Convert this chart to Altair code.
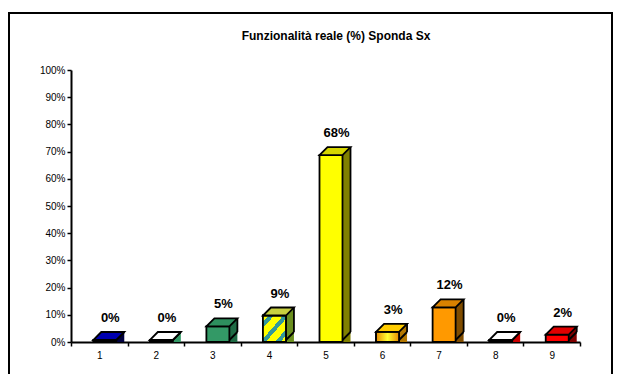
import altair as alt
import pandas as pd

# ---- data ----
cats = ["1", "2", "3", "4", "5", "6", "7", "8", "9"]
values = [0, 0, 5, 9, 68, 3, 12, 0, 2]  # percent
front_colors = ["#000080", "#33CCCC", "#339966", "#FFFF00", "#FFFF00", "#FFCC00", "#FF9900", "#FF3300", "#FF0000"]
side_colors = ["#000040", "#339966", "#1F6B45", "#6B8F1F", "#808000", "#B37700", "#804D00", "#CC0000", "#800000"]
top_colors = ["#0000B0", "#FFFFFF", "#2E8F5E", "#C8D040", "#D6D600", "#FFCC00", "#D98200", "#FFFFFF", "#E00000"]
y_ticks = [0.0, 0.1, 0.2, 0.3, 0.4, 0.5, 0.6, 0.7, 0.8, 0.9, 1.0]
title_text = "Funzionalità reale (%) Sponda Sx"

df = pd.DataFrame({
    "cat": cats,
    "val": [v / 100 for v in values],
    "label": [f"{v}%" for v in values],
    "front": front_colors,
    "side": side_colors,
    "top": top_colors,
})

FONT = "Liberation Sans"
SW = 1.8
FW = 23          # front face width
FX = 5.5         # front face center offset from band center
DX, DY = 8, 8    # depth
FY = -2          # front face vertical offset

x_enc = alt.X(
    "cat:N", sort=cats,
    scale=alt.Scale(domain=cats, paddingInner=0, paddingOuter=0),
    axis=alt.Axis(title=None, labelAngle=0, tickBand="extent", domainColor="black",
                  domainWidth=2, tickColor="black", tickWidth=1.5, tickSize=4,
                  labelFont=FONT, labelFontSize=10, labelColor="black", labelPadding=4),
)
y_scale = alt.Scale(domain=[0, 1], nice=False)
y_axis = alt.Axis(title=None, values=y_ticks, format=".0%", grid=False, domainColor="black",
                  domainWidth=2, tickColor="black", tickWidth=1.5, tickSize=4, labelOverlap=False,
                  labelFont=FONT, labelFontSize=10, labelColor="black", labelPadding=2)
y_enc = alt.Y("val:Q", scale=y_scale, axis=y_axis)
y0_enc = alt.YDatum(0, scale=y_scale, axis=y_axis)

base = alt.Chart(df)

# back face (forms the side face)
back = base.mark_bar(width=FW, xOffset=FX + DX, yOffset=FY - DY, strokeWidth=0).encode(
    x=x_enc, y=y_enc, y2=alt.datum(0), fill=alt.Fill("side:N", scale=None))

# lower triangle of side face
tri = base.mark_point(shape="M0,0 L0,-0.4 L0.4,-0.4 Z", size=1600, filled=True, opacity=1,
                      strokeWidth=0, xOffset=FX + FW / 2, yOffset=FY).encode(
    x=x_enc, y=y0_enc, fill=alt.Fill("side:N", scale=None))

# front face
front = base.mark_bar(width=FW, xOffset=FX, yOffset=FY, stroke="black", strokeWidth=SW).encode(
    x=x_enc, y=y_enc, y2=alt.datum(0), fill=alt.Fill("front:N", scale=None))

stripes = alt.Gradient(
    gradient="linear", x1=0, y1=0, x2=1, y2=1,
    stops=[
        alt.GradientStop(offset=0.0, color="#FFFF00"), alt.GradientStop(offset=0.12, color="#FFFF00"),
        alt.GradientStop(offset=0.12, color="#339999"), alt.GradientStop(offset=0.24, color="#339999"),
        alt.GradientStop(offset=0.24, color="#FFFF00"), alt.GradientStop(offset=0.44, color="#FFFF00"),
        alt.GradientStop(offset=0.44, color="#339999"), alt.GradientStop(offset=0.56, color="#339999"),
        alt.GradientStop(offset=0.56, color="#FFFF00"), alt.GradientStop(offset=0.76, color="#FFFF00"),
        alt.GradientStop(offset=0.76, color="#339999"), alt.GradientStop(offset=0.88, color="#339999"),
        alt.GradientStop(offset=0.88, color="#FFFF00"), alt.GradientStop(offset=1.0, color="#FFFF00"),
    ])
front4 = base.transform_filter(alt.datum.cat == "4").mark_bar(
    width=FW, xOffset=FX, yOffset=FY, stroke="black", strokeWidth=SW, fill=stripes).encode(
    x=x_enc, y=y_enc, y2=alt.datum(0))

orange_grad = alt.Gradient(
    gradient="linear", x1=0, y1=0, x2=1, y2=0,
    stops=[alt.GradientStop(offset=0.0, color="#E68A00"), alt.GradientStop(offset=0.5, color="#FFFF33"),
           alt.GradientStop(offset=1.0, color="#E68A00")])
front6 = base.transform_filter(alt.datum.cat == "6").mark_bar(
    width=FW, xOffset=FX, yOffset=FY, stroke="black", strokeWidth=SW, fill=orange_grad).encode(
    x=x_enc, y=y_enc, y2=alt.datum(0))

# right edge of side face
edge = base.mark_rule(color="black", strokeWidth=SW, xOffset=FX + FW / 2 + DX,
                      yOffset=FY - DY, y2Offset=FY - DY).encode(
    x=x_enc, y=y_enc, y2=alt.datum(0))

# bottom diagonal edge
diag = base.mark_point(shape="M0,0 L0.4,-0.4", size=1600, filled=False, opacity=1,
                       stroke="black", strokeWidth=SW, xOffset=FX + FW / 2, yOffset=FY).encode(
    x=x_enc, y=y0_enc)

# top face
topface = base.mark_point(shape="M-0.575,0 L0.575,0 L0.975,-0.4 L-0.175,-0.4 Z", size=1600,
                          filled=True, opacity=1, stroke="black", strokeWidth=SW,
                          xOffset=FX, yOffset=FY).encode(
    x=x_enc, y=y_enc, fill=alt.Fill("top:N", scale=None))

labels = base.mark_text(font=FONT, fontSize=13, fontWeight="bold", color="black",
                        baseline="middle", align="center", xOffset=11, yOffset=-24).encode(
    x=x_enc, y=y_enc, text="label:N")

one = alt.Chart(pd.DataFrame({"t": [title_text]}))

frame = one.mark_rect(fill="transparent", stroke="black", strokeWidth=2).encode(
    x=alt.value(-62), x2=alt.value(541), y=alt.value(-57), y2=alt.value(330))

title = one.mark_text(font=FONT, fontSize=12, fontWeight="bold", color="black",
                      align="center", baseline="middle").encode(
    x=alt.value(265), y=alt.value(-34), text="t:N")

chart = alt.layer(back, tri, front, front4, front6, edge, diag, topface, labels, frame, title).properties(
    width=509, height=272,
    autosize=alt.AutoSizeParams(type="none"),
    padding={"left": 71, "top": 70, "right": 40, "bottom": 32},
).configure(background="white", view=alt.ViewConfig(stroke="transparent"))

chart.save("out.html", embed_options={"renderer": "svg", "actions": False})
